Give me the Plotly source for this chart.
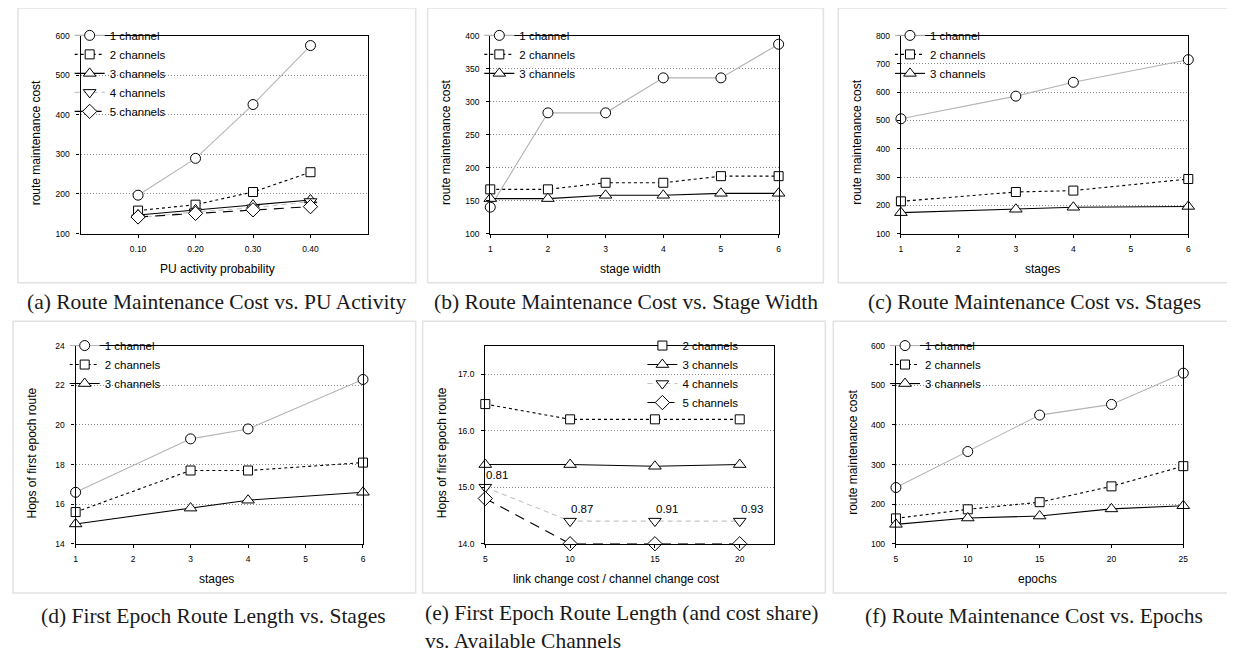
import plotly.graph_objects as go

W, H = 1235, 653

# ---------------- data ----------------
pu_x = [0.10, 0.20, 0.30, 0.40]
a_1ch = [197, 290, 426, 575]
a_2ch = [158, 173, 205, 255]
a_3ch = [147, 160, 172, 185]
a_4ch = [140, 155, 165, 181]
a_5ch = [142, 151, 160, 168]

sw_x = [1, 2, 3, 4, 5, 6]
b_1ch = [140, 283, 283, 336, 336, 387]
b_2ch = [167, 167, 177, 177, 187, 187]
b_3ch = [153, 153, 158, 158, 161, 161]

st_x = [1, 3, 4, 6]
c_1ch = [506, 586, 635, 715]
c_2ch = [214, 247, 252, 293]
c_3ch = [174, 186, 193, 196]

d_1ch = [16.6, 19.3, 19.8, 22.3]
d_2ch = [15.6, 17.7, 17.7, 18.1]
d_3ch = [15.0, 15.8, 16.2, 16.6]

ratio_x = [5, 10, 15, 20]
e_2ch = [16.47, 16.2, 16.2, 16.2]
e_3ch = [15.4, 15.4, 15.37, 15.4]
e_4ch = [15.0, 14.4, 14.4, 14.4]
e_5ch = [14.8, 14.0, 14.0, 14.0]
e_share = ["0.81", "0.87", "0.91", "0.93"]

ep_x = [5, 10, 15, 20, 25]
f_1ch = [242, 333, 425, 452, 531]
f_2ch = [164, 187, 205, 245, 296]
f_3ch = [149, 165, 170, 188, 196]

captions = [
    "(a) Route Maintenance Cost vs. PU Activity",
    "(b) Route Maintenance Cost vs. Stage Width",
    "(c) Route Maintenance Cost vs. Stages",
    "(d) First Epoch Route Length vs. Stages",
    "(e) First Epoch Route Length (and cost share)<br>vs. Available Channels",
    "(f) Route Maintenance Cost vs. Epochs",
]
x_titles = ["PU activity probability", "stage width", "stages", "stages",
            "link change cost / channel change cost", "epochs"]
y_titles = ["route maintenance cost"] * 3 + ["Hops of first epoch route"] * 2 + ["route maintenance cost"]

# ---------------- styles ----------------
SANS = "Liberation Sans, Arial, sans-serif"
SERIF = "Liberation Serif, Times New Roman, serif"
styles = {
    "1 channel": dict(color="#b4b4b4", dash="solid", symbol="circle", size=10),
    "2 channels": dict(color="black", dash="3px,3px", symbol="square", size=9),
    "3 channels": dict(color="black", dash="solid", symbol="triangle-up", size=11),
    "4 channels": dict(color="#c4c4c4", dash="5px,4px", symbol="triangle-down", size=11),
    "5 channels": dict(color="black", dash="10px,7px", symbol="diamond", size=11),
}

# panel geometry in pixels: (left, right, top, bottom)
panels = [
    (71, 360, 23, 224),
    (483, 773, 23, 224),
    (896, 1185, 23, 224),
    (66, 355, 338, 539),
    (478, 768, 338, 539),
    (891, 1180, 338, 539),
]
xranges = [[0, 0.5], [1, 6], [1, 6], [1, 6], [5, 22], [5, 25]]
xticks = [pu_x, sw_x, [1, 2, 3, 4, 5, 6], [1, 2, 3, 4, 5, 6], ratio_x, ep_x]
xfmt = [".2f", "d", "d", "d", "d", "d"]
yranges = [[100, 600], [100, 400], [100, 800], [14, 24], [14, 17.5], [100, 600]]
ydtick = [100, 50, 100, 2, 1, 100]
yfmt = ["d", "d", "d", "d", ".1f", "d"]

series = [
    [("1 channel", pu_x, a_1ch), ("2 channels", pu_x, a_2ch), ("3 channels", pu_x, a_3ch),
     ("4 channels", pu_x, a_4ch), ("5 channels", pu_x, a_5ch)],
    [("1 channel", sw_x, b_1ch), ("2 channels", sw_x, b_2ch), ("3 channels", sw_x, b_3ch)],
    [("1 channel", st_x, c_1ch), ("2 channels", st_x, c_2ch), ("3 channels", st_x, c_3ch)],
    [("1 channel", st_x, d_1ch), ("2 channels", st_x, d_2ch), ("3 channels", st_x, d_3ch)],
    [("2 channels", ratio_x, e_2ch), ("3 channels", ratio_x, e_3ch),
     ("4 channels", ratio_x, e_4ch), ("5 channels", ratio_x, e_5ch)],
    [("1 channel", ep_x, f_1ch), ("2 channels", ep_x, f_2ch), ("3 channels", ep_x, f_3ch)],
]

# legend anchor (left px, top px)
legend_pos = [(60, 8), (472, 8), (885, 8), (55, 323), (636, 323), (880, 323)]
xtitle_cx = [209, 624, 1038, 208, 610, 1033]
caption_pos = [(208, 293, "center"), (620, 293, "center"), (1030, 293, "center"),
               (205, 612, "center"), (415, 624, "left"), (1030, 612, "center")]
frames = [(8, 408, -5, 274), (420, 818, -5, 274), (833, 1233, -5, 274),
          (3, 408, 313, 589), (415, 820, 313, 589), (828, 1233, 313, 589)]

fig = go.Figure()
layout = dict(
    width=W, height=H, margin=dict(l=0, r=0, t=0, b=0),
    paper_bgcolor="white", plot_bgcolor="white",
    font=dict(family=SANS, color="black"),
    showlegend=True,
)
annotations = []
shapes = []

for i, (l, r, t, b) in enumerate(panels):
    n = "" if i == 0 else str(i + 1)
    xa, ya = "xaxis" + n, "yaxis" + n
    xref, yref = "x" + n, "y" + n
    lg = "legend" + n
    layout[xa] = dict(
        domain=[l / W, r / W], anchor=yref, range=xranges[i],
        tickmode="array", tickvals=xticks[i], tickformat=xfmt[i],
        ticks="outside", ticklen=3, tickcolor="black", ticklabelstandoff=4,
        showline=True, linecolor="black", linewidth=1, mirror=True,
        showgrid=False, zeroline=False,
        tickfont=dict(size=8.5, family=SANS),
    )
    layout[ya] = dict(
        domain=[1 - b / H, 1 - t / H], anchor=xref, range=yranges[i],
        dtick=ydtick[i], tick0=yranges[i][0], tickformat=yfmt[i],
        ticks="outside", ticklen=3, tickcolor="black", ticklabelstandoff=5,
        showline=True, linecolor="black", linewidth=1.3, mirror=True,
        showgrid=True, gridcolor="#8a8a8a", griddash="1px,2px", gridwidth=1,
        zeroline=False,
        tickfont=dict(size=8.5, family=SANS),
    )
    lx, ly = legend_pos[i]
    layout[lg] = dict(
        x=lx / W, y=1 - ly / H, xanchor="left", yanchor="top",
        bgcolor="rgba(0,0,0,0)", borderwidth=0,
        font=dict(size=11.5, family=SANS), tracegroupgap=0,
        itemwidth=30,
    )
    for name, xs, ys in series[i]:
        st = styles[name]
        fig.add_trace(go.Scatter(
            x=xs, y=ys, name=name, mode="lines+markers",
            xaxis=xref, yaxis=yref, legend=lg, cliponaxis=False,
            line=dict(color=st["color"], dash=st["dash"], width=1.1),
            marker=dict(symbol=st["symbol"], size=st["size"],
                        color="white", line=dict(color="black", width=1)),
        ))
    # axis titles
    annotations.append(dict(
        text=x_titles[i], x=xtitle_cx[i] / W, y=1 - (b + 36) / H,
        xref="paper", yref="paper", xanchor="center", yanchor="middle",
        showarrow=False, font=dict(size=12, family=SANS)))
    annotations.append(dict(
        text=y_titles[i], x=(l - 44) / W, y=1 - ((t + b) / 2 + 8) / H,
        xref="paper", yref="paper", xanchor="center", yanchor="middle",
        textangle=-90, showarrow=False, font=dict(size=12, family=SANS)))
    # caption
    cx, cy, al = caption_pos[i]
    annotations.append(dict(
        text=captions[i], x=cx / W, y=1 - cy / H, xref="paper", yref="paper",
        xanchor=al, yanchor="middle", align="left", showarrow=False,
        font=dict(size=21.5, family=SERIF, color="#1a1a1a")))
    # panel frame
    fl, fr, ft, fb = frames[i]
    shapes.append(dict(type="rect", xref="paper", yref="paper",
                       x0=fl / W, x1=fr / W, y0=1 - fb / H, y1=1 - ft / H,
                       line=dict(color="#e2e2e2", width=1.5), layer="below"))

# cost share labels on 4-channel series in panel (e)
for xv, yv, s in zip(ratio_x, e_4ch, e_share):
    annotations.append(dict(
        text=s, x=xv, y=yv, xref="x5", yref="y5", xanchor="left", yanchor="bottom",
        xshift=-1, yshift=4, showarrow=False, font=dict(size=11.5, family=SANS)))

layout["annotations"] = annotations
layout["shapes"] = shapes
fig.update_layout(**layout)
fig.write_html("out.html")
